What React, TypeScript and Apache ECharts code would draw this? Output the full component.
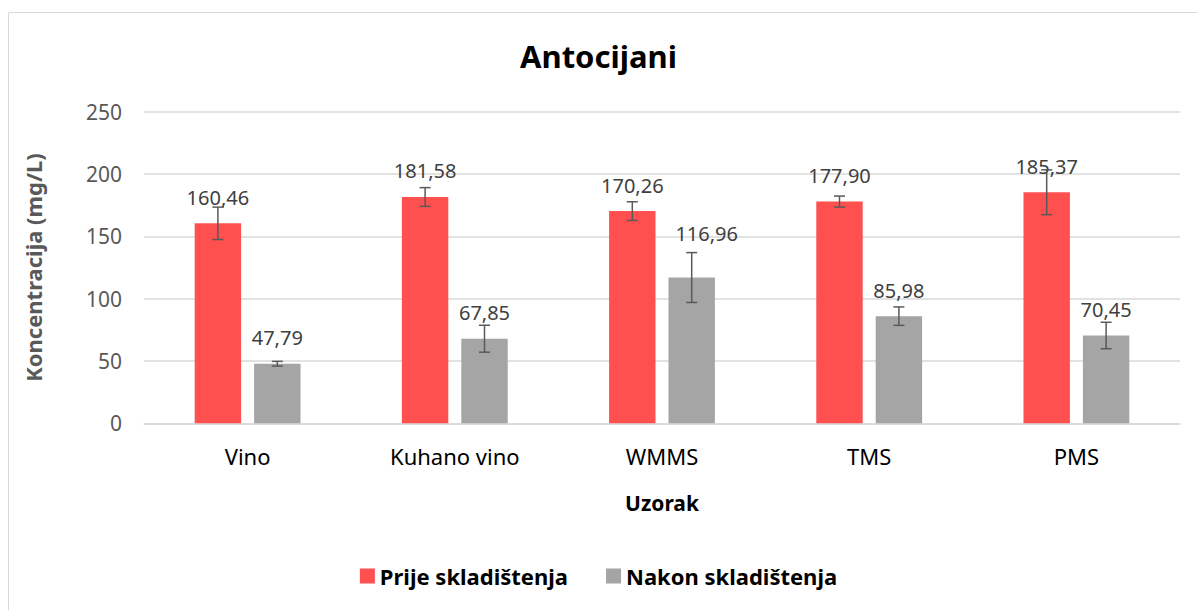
import React, { useEffect, useRef } from "react";
import * as echarts from "echarts";

const categories = ["Vino", "Kuhano vino", "WMMS", "TMS", "PMS"];
const prijeValues = [160.46, 181.58, 170.26, 177.9, 185.37];
const nakonValues = [47.79, 67.85, 116.96, 85.98, 70.45];
const prijeErrors = [13, 7.5, 7.5, 4.4, 18];
const nakonErrors = [1.9, 10.8, 20, 7.4, 10.6];
const seriesNames = ["Prije skladištenja", "Nakon skladištenja"];

const FONT = "'Noto Sans', 'Open Sans', sans-serif";
const fmt = (v: number) => v.toFixed(2).replace(".", ",");

const BAR_W = 0.224;
const GAP = 0.28;

function errorSeries(values: number[], errors: number[], side: number) {
  return {
    type: "custom",
    z: 10,
    silent: true,
    data: values.map((v, i) => [i, v, errors[i]]),
    encode: { x: 0, y: 1 },
    renderItem: (params: any, api: any) => {
      const i = api.value(0);
      const v = api.value(1);
      const e = api.value(2);
      const band = api.size([1, 0])[0];
      const bw = band * BAR_W;
      const off = side * (bw * (1 + GAP)) / 2;
      const top = api.coord([i, v + e]);
      const bot = api.coord([i, v - e]);
      const x = top[0] + off;
      const cap = 5.5;
      const style = { stroke: "#595959", lineWidth: 1.5, fill: "none" };
      return {
        type: "group",
        children: [
          { type: "line", shape: { x1: x, y1: top[1], x2: x, y2: bot[1] }, style },
          { type: "line", shape: { x1: x - cap, y1: top[1], x2: x + cap, y2: top[1] }, style },
          { type: "line", shape: { x1: x - cap, y1: bot[1], x2: x + cap, y2: bot[1] }, style },
        ],
      };
    },
  };
}

export default function App() {
  const ref = useRef<HTMLDivElement>(null);
  useEffect(() => {
    const chart = echarts.init(ref.current!, null, { renderer: "svg" });
    const labelBase = {
      show: true,
      position: "top",
      distance: 16,
      fontSize: 20,
      color: "#404040",
      fontFamily: FONT,
      formatter: (p: any) => fmt(p.value as number),
    };
    chart.setOption({
      animation: false,
      backgroundColor: "#fff",
      textStyle: { fontFamily: FONT },
      title: {
        text: "Antocijani",
        left: "center",
        top: 35,
        textStyle: { fontSize: 31, fontWeight: "bold", color: "#000", fontFamily: FONT },
      },
      graphic: [
        {
          type: "rect",
          shape: { x: 8.5, y: 12.5, width: 1200, height: 620 },
          style: { fill: "none", stroke: "#d9d9d9", lineWidth: 1 },
          silent: true,
        },
      ],
      legend: {
        data: seriesNames,
        left: "center",
        top: 560,
        itemWidth: 15,
        itemHeight: 15,
        itemGap: 38,
        icon: "rect",
        textStyle: { fontSize: 22, fontWeight: "bold", color: "#000", fontFamily: FONT },
      },
      grid: { left: 144, right: 17, top: 111.7, bottom: 186.7, containLabel: false },
      xAxis: {
        type: "category",
        data: categories,
        name: "Uzorak",
        nameLocation: "middle",
        nameGap: 69,
        nameTextStyle: { fontSize: 21, fontWeight: "bold", color: "#000", fontFamily: FONT },
        axisLine: { lineStyle: { color: "#d9d9d9", width: 1.5 } },
        axisTick: { show: false },
        axisLabel: { fontSize: 22, color: "#000", margin: 22, fontFamily: FONT },
      },
      yAxis: {
        type: "value",
        min: 0,
        max: 250,
        interval: 50,
        name: "Koncentracija (mg/L)",
        nameLocation: "middle",
        nameGap: 100,
        nameTextStyle: { fontSize: 22, fontWeight: "bold", color: "#595959", fontFamily: FONT },
        axisLine: { show: false },
        axisTick: { show: false },
        axisLabel: { fontSize: 21, color: "#595959", margin: 22, fontFamily: FONT },
        splitLine: { lineStyle: { color: "#d9d9d9", width: 1.5 } },
      },
      series: [
        {
          name: seriesNames[0],
          type: "bar",
          data: prijeValues,
          barWidth: (BAR_W * 100).toFixed(1) + "%",
          barGap: (GAP * 100).toFixed(0) + "%",
          itemStyle: { color: "#FF5050" },
          label: labelBase,
        },
        {
          name: seriesNames[1],
          type: "bar",
          data: nakonValues.map((v, i) =>
            i === 2 ? { value: v, label: { offset: [15, -18] } } : v
          ),
          barWidth: (BAR_W * 100).toFixed(1) + "%",
          barGap: (GAP * 100).toFixed(0) + "%",
          itemStyle: { color: "#A5A5A5" },
          label: labelBase,
        },
        errorSeries(prijeValues, prijeErrors, -1),
        errorSeries(nakonValues, nakonErrors, 1),
      ],
    });
    return () => chart.dispose();
  }, []);
  return (
    <div
      ref={ref}
      style={{ position: "fixed", left: 0, top: 0, width: 1197, height: 610 }}
    />
  );
}
